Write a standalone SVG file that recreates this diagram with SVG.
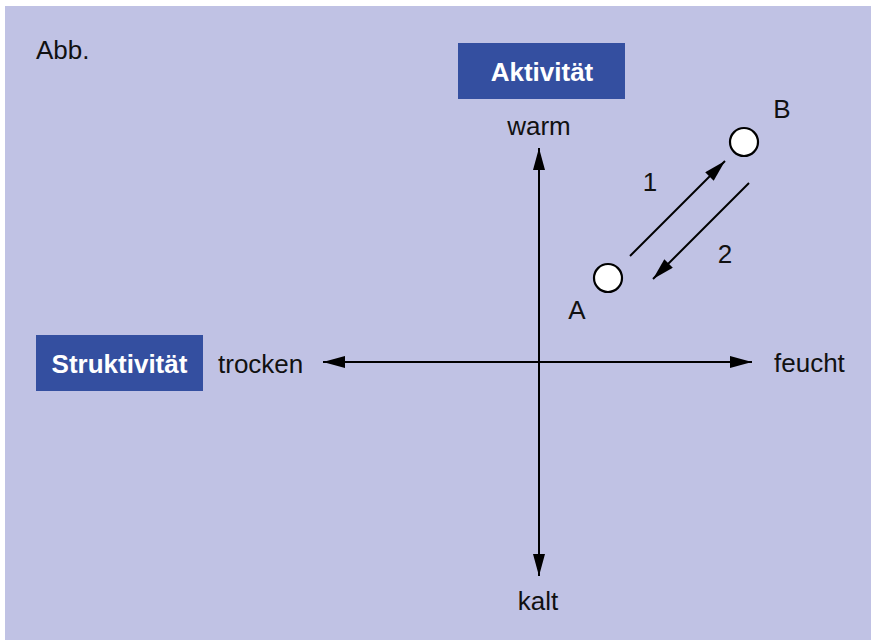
<svg xmlns="http://www.w3.org/2000/svg" width="871" height="640" viewBox="0 0 871 640">
<style>
.t{font-family:"Liberation Sans",Arial,sans-serif;font-size:26px;fill:#111}
.lbl{font-family:"Liberation Sans",Arial,sans-serif;font-size:26px;font-weight:bold;fill:#fff}
.box{fill:#344fa0}
.ax{stroke:#000;stroke-width:2;fill:none}
.pt{fill:#fff;stroke:#000;stroke-width:2.2}
</style>
<defs>
<marker id="ah" viewBox="0 0 22 12" refX="22" refY="6" markerWidth="22" markerHeight="12" markerUnits="userSpaceOnUse" orient="auto">
<path d="M0,0 L22,6 L0,12 Z" fill="#000"/>
</marker>
</defs>
<rect x="5" y="6" width="866" height="634" fill="#c0c2e4"/>
<text class="t" x="36" y="59">Abb.</text>
<g id="aktivitaet">
<rect class="box" x="458" y="43" width="167" height="56"/>
<text class="lbl" x="542" y="81" text-anchor="middle">Aktivität</text>
</g>
<g id="struktivitaet">
<rect class="box" x="36" y="335" width="167" height="56"/>
<text class="lbl" x="119.5" y="373" text-anchor="middle">Struktivität</text>
</g>
<g id="warm"><text class="t" x="539" y="135" text-anchor="middle">warm</text></g>
<g id="kalt"><text class="t" x="538" y="610" text-anchor="middle">kalt</text></g>
<g id="trocken"><text class="t" x="218" y="373">trocken</text></g>
<g id="feucht"><text class="t" x="774" y="372">feucht</text></g>
<g id="A">
<circle class="pt" cx="608" cy="278" r="14"/>
<text class="t" x="577" y="319" text-anchor="middle">A</text>
</g>
<g id="B">
<circle class="pt" cx="744" cy="142" r="14"/>
<text class="t" x="782" y="118" text-anchor="middle">B</text>
</g>
<g id="connectors">
<line class="ax" x1="539" y1="362" x2="539" y2="148" marker-end="url(#ah)"/>
<line class="ax" x1="539" y1="362" x2="539" y2="576" marker-end="url(#ah)"/>
<line class="ax" x1="539" y1="362" x2="323" y2="362" marker-end="url(#ah)"/>
<line class="ax" x1="539" y1="362" x2="752" y2="362" marker-end="url(#ah)"/>
<line class="ax" x1="630" y1="256" x2="725" y2="161" marker-end="url(#ah)"/>
<line class="ax" x1="749" y1="183" x2="653" y2="279" marker-end="url(#ah)"/>
<text class="t" x="650" y="191" text-anchor="middle">1</text>
<text class="t" x="725" y="263" text-anchor="middle">2</text>
</g>
</svg>
